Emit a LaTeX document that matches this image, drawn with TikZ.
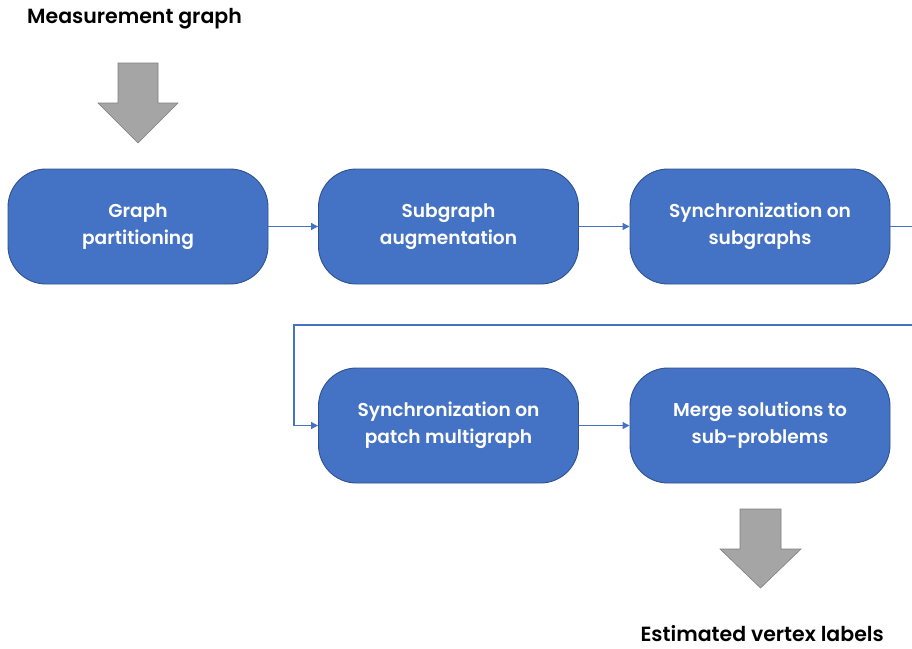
\documentclass[tikz,border=0pt]{standalone}
\usepackage{fontspec}
\setmainfont{Poppins}[BoldFont={* SemiBold}]
\usetikzlibrary{arrows.meta}
\definecolor{boxblue}{HTML}{4472C4}
\definecolor{boxedge}{HTML}{2F528F}
\definecolor{linkblue}{HTML}{4472C4}
\definecolor{arrowgray}{HTML}{A5A5A5}
\definecolor{arrowedge}{HTML}{7F7F7F}
\begin{document}
\begin{tikzpicture}[x=1pt,y=-1pt,
  stepbox/.style={draw=boxedge, line width=0.9pt, fill=boxblue, rounded corners=38pt,
    minimum width=260pt, minimum height=115pt, text=white, align=center,
    font=\fontsize{18.6}{27}\selectfont\bfseries, inner sep=0pt},
  link/.style={draw=linkblue, line width=1.1pt, -{Triangle[length=7pt,width=7pt]}},
  plainlink/.style={draw=linkblue, line width=1.1pt},
  bigarrow/.style={fill=arrowgray, draw=arrowedge, line width=0.6pt},
  caption/.style={font=\fontsize{20.5}{24}\selectfont\bfseries, text=black, inner sep=0pt}]
\useasboundingbox (0,0) rectangle (912,648);

% process boxes
\node[stepbox] (gp) at (138,226.5) {Graph\\partitioning};
\node[stepbox] (sa) at (448.5,226.5) {Subgraph\\augmentation};
\node[stepbox] (ss) at (760,226.5) {Synchronization on\\subgraphs};
\node[stepbox] (sp) at (448.5,425.5) {Synchronization on\\patch multigraph};
\node[stepbox] (ms) at (760,425.5) {Merge solutions to\\sub-problems};

% captions
\node[caption, anchor=west] (mg) at (27,19) {Measurement graph};
\node[caption, anchor=east] (ev) at (884,634) {Estimated vertex labels};

% connectors
\coordinate (outr) at (912,226.5);
\coordinate (backr) at (912,325);
\coordinate (backl) at (294,325);
\coordinate (downl) at (294,425.5);
\draw[link] (gp.east) -- (sa.west);
\draw[link] (sa.east) -- (ss.west);
\draw[plainlink] (ss.east) -- (outr);
\draw[link] (backr) -- (backl) -- (downl) -- (sp.west);
\draw[link] (sp.east) -- (ms.west);

% block arrows
\draw[bigarrow] (118,63) -- (158,63) -- (158,103) -- (178,103) -- (138,143)
  -- (98,103) -- (118,103) -- cycle;
\draw[bigarrow] (740,509) -- (781,509) -- (781,549) -- (801,549) -- (760.5,588)
  -- (720,549) -- (740,549) -- cycle;
\end{tikzpicture}
\end{document}
